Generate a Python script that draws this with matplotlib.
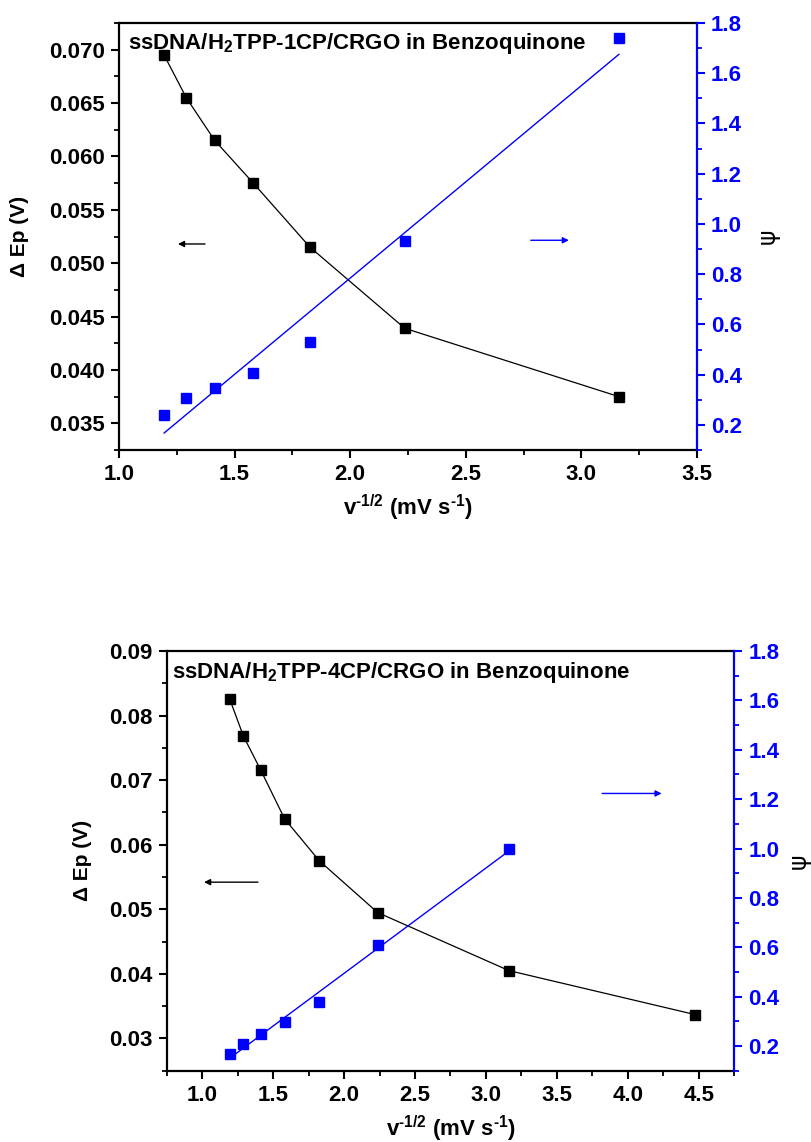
import numpy as np
import matplotlib
matplotlib.use("Agg")
import matplotlib.pyplot as plt

plt.rcParams['font.family'] = ['Liberation Sans', 'DejaVu Sans']
plt.rcParams['mathtext.fontset'] = 'custom'
plt.rcParams['mathtext.rm'] = 'Liberation Sans:bold'
plt.rcParams['mathtext.bf'] = 'Liberation Sans:bold'
plt.rcParams['mathtext.it'] = 'Liberation Sans:bold'

# ---- data: panel 1 (H2TPP-1CP) ----
x1 = [1.195, 1.291, 1.414, 1.581, 1.826, 2.236, 3.162]
dEp1 = [0.0695, 0.0655, 0.0615, 0.0575, 0.0515, 0.0439, 0.0375]
psi1 = [0.238, 0.308, 0.347, 0.408, 0.528, 0.931, 1.739]

# ---- data: panel 2 (H2TPP-4CP) ----
x2 = [1.195, 1.291, 1.414, 1.581, 1.826, 2.236, 3.162, 4.472]
dEp2 = [0.0825, 0.0768, 0.0715, 0.0640, 0.0575, 0.0495, 0.0405, 0.0337]
x2psi = [1.195, 1.291, 1.414, 1.581, 1.826, 2.236, 3.162]
psi2 = [0.168, 0.208, 0.249, 0.299, 0.377, 0.608, 0.999]

titles = ["ssDNA/H$_2$TPP-1CP/CRGO in Benzoquinone",
          "ssDNA/H$_2$TPP-4CP/CRGO in Benzoquinone"]

W, H = 812, 1142
fig = plt.figure(figsize=(W / 100, H / 100), dpi=100)

BLUE = '#0000ff'
TICKFS = 16


def make_panel(rect, x, dEp, xp, psi, title, xlim, xticks, ylim, yticks,
               yminor, arrowL, arrowR, title_pos, ylab_x, psi_x):
    l, t, r, b = rect
    ax = fig.add_axes([l / W, 1 - b / H, (r - l) / W, (b - t) / H])
    ax2 = ax.twinx()
    ax.plot(x, dEp, color='black', lw=0.9, marker='s', ms=7.5,
            mfc='black', mec='black', zorder=3)
    ax2.plot(xp, psi, ls='none', marker='s', ms=6.5, mfc=BLUE, mec=BLUE,
             zorder=3)
    k, c = np.polyfit(xp, psi, 1)
    xf = np.array([min(xp), max(xp)])
    ax2.plot(xf, k * xf + c, color=BLUE, lw=1.0)

    ax.set_xlim(*xlim)
    ax.set_xticks(xticks)
    ax.set_xticklabels([f"{v:.1f}" for v in xticks])
    ax.set_xticks(np.arange(xlim[0], xlim[1] + 1e-9, 0.25), minor=True)
    ax.set_ylim(*ylim)
    ax.set_yticks(yticks)
    dec = 3 if ylim[1] < 0.08 else 2
    ax.set_yticklabels([f"{v:.{dec}f}" for v in yticks])
    ax.set_yticks(yminor, minor=True)
    ax2.set_ylim(0.1, 1.8)
    rt = [0.2, 0.4, 0.6, 0.8, 1.0, 1.2, 1.4, 1.6, 1.8]
    ax2.set_yticks(rt)
    ax2.set_yticklabels([f"{v:.1f}" for v in rt])
    ax2.set_yticks(np.arange(0.1, 1.81, 0.1), minor=True)

    for a in (ax, ax2):
        for s in a.spines.values():
            s.set_linewidth(1.6)
    ax.spines['right'].set_visible(False)
    ax2.spines['left'].set_visible(False)
    ax2.spines['bottom'].set_visible(False)
    ax2.spines['top'].set_visible(False)
    ax2.spines['right'].set_color(BLUE)

    ax.tick_params(axis='both', which='major', direction='out', length=6,
                   width=1.5, labelsize=TICKFS, pad=4)
    ax.tick_params(axis='both', which='minor', direction='out', length=3.5,
                   width=1.3)
    ax.tick_params(top=False, right=False, which='both')
    ax2.tick_params(axis='y', which='major', direction='out', length=6,
                    width=1.5, colors=BLUE, labelsize=TICKFS, pad=4)
    ax2.tick_params(axis='y', which='minor', direction='out', length=3.5,
                    width=1.3, colors=BLUE)
    for lab in ax.get_xticklabels() + ax.get_yticklabels() + ax2.get_yticklabels():
        lab.set_fontweight('bold')

    ax.set_xlabel("v$^{\u2010\\mathregular{1/2}}$ (mV s$^{\u2010\\mathregular{1}}$)",
                  fontsize=16, fontweight='bold', labelpad=6)
    fig.text(ylab_x / W, 1 - ((t + b) / 2) / H, "Δ Ep (V)", rotation=90,
             fontsize=15, fontweight='bold', ha='center', va='center')
    fig.text(psi_x / W, 1 - ((t + b) / 2) / H, "ψ", rotation=90,
             fontsize=17, ha='center', va='center', family='DejaVu Sans')

    ax.text(title_pos[0], title_pos[1], title, transform=ax.transAxes,
            fontsize=16, fontweight='bold', ha='left', va='center')

    ax.annotate("", xy=arrowL[1], xytext=arrowL[0],
                arrowprops=dict(arrowstyle='-|>', color='black', lw=1.0,
                                mutation_scale=9, shrinkA=0, shrinkB=0))
    ax2.annotate("", xy=arrowR[1], xytext=arrowR[0],
                 arrowprops=dict(arrowstyle='-|>', color=BLUE, lw=1.0,
                                 mutation_scale=9, shrinkA=0, shrinkB=0))
    return ax, ax2


make_panel((119, 23, 697, 450), x1, dEp1, x1, psi1, titles[0],
           (1.0, 3.5), [1.0, 1.5, 2.0, 2.5, 3.0, 3.5],
           (0.0325, 0.0725), [0.035, 0.040, 0.045, 0.050, 0.055, 0.060, 0.065, 0.070],
           np.arange(0.0325, 0.0726, 0.0025),
           ((1.372, 0.0518), (1.255, 0.0518)),
           ((2.781, 0.935), (2.946, 0.935)),
           (0.0156, 0.953), 20, 768)

make_panel((166.7, 651, 734.3, 1070.7), x2, dEp2, x2psi, psi2, titles[1],
           (0.75, 4.75), [1.0, 1.5, 2.0, 2.5, 3.0, 3.5, 4.0, 4.5],
           (0.025, 0.09), [0.03, 0.04, 0.05, 0.06, 0.07, 0.08, 0.09],
           np.arange(0.025, 0.0901, 0.005),
           ((1.393, 0.0542), (1.013, 0.0542)),
           ((3.818, 1.223), (4.238, 1.223)),
           (0.0093, 0.9476), 83, 799)

fig.savefig("out.png", dpi=100)
